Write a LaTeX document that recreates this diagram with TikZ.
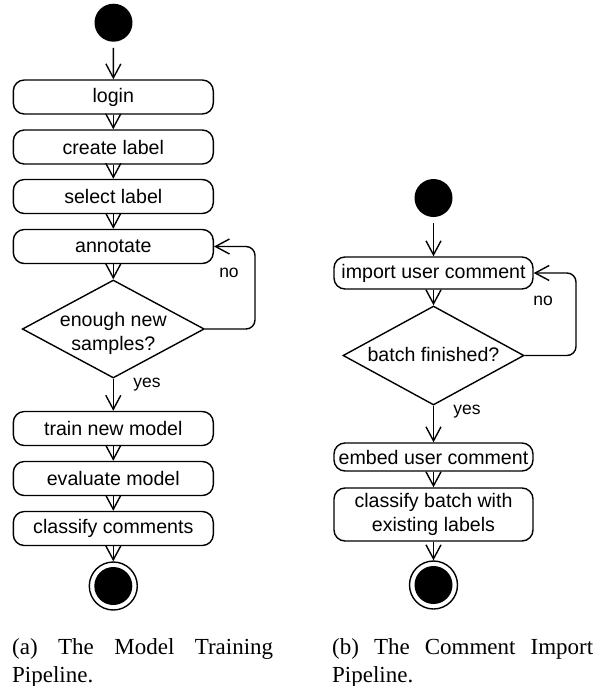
\documentclass[tikz,border=0pt]{standalone}
\usepackage{fontspec}
\setmainfont{Liberation Sans}
\newfontfamily\capfont{Liberation Serif}
\usetikzlibrary{arrows.meta,shapes.geometric}
\begin{document}
\begin{tikzpicture}[x=1pt,y=-1pt,
  every node/.style={font=\fontsize{19.6}{24}\selectfont},
  act/.style={draw, rounded corners=11pt, minimum width=200pt, minimum height=34pt, inner sep=0pt, line width=1.4pt, align=center},
  decision/.style={draw, diamond, minimum width=182pt, minimum height=98pt, inner sep=0pt, line width=1.4pt},
  startnode/.style={circle, fill=black, minimum size=38pt, inner sep=0pt},
  endnode/.style={circle, draw, line width=1.4pt, minimum size=48pt, inner sep=0pt,
    path picture={\fill (path picture bounding box.center) circle (19pt);}},
  flow/.style={line width=1.4pt, -{Straight Barb[length=14pt,width=15pt,line width=1.4pt]}},
  guard/.style={font=\fontsize{17.5}{20}\selectfont, inner sep=0pt},
  caption/.style={font=\capfont\fontsize{23}{28}\selectfont, text width=261pt, align=justify, inner sep=0pt, anchor=north west}
]
\useasboundingbox (0,0) rectangle (603,686);

% ---------- (a) ----------
\node[startnode] (s1) at (113.5,22.7) {};
\node[act] (a1) at (113.3,97) {login};
\node[act] (a2) at (113.3,147) {create label};
\node[act] (a3) at (113.3,196.5) {select label};
\node[act] (a4) at (113.3,246.5) {annotate};
\node[decision] (d1) at (113.3,329) {\smash{\makebox[0pt]{\raisebox{-10pt}{\begin{tabular}{@{}c@{}}enough new\\samples?\end{tabular}}}}};
\node[act] (a5) at (113.3,428.5) {train new model};
\node[act] (a6) at (113.3,478.5) {evaluate model};
\node[act] (a7) at (113.3,528.5) {classify comments};
\node[endnode] (e1) at (113.3,586) {};
\coordinate (c1) at (255,246.5);

\draw[flow, shorten <=6pt] (s1) -- (a1);
\draw[flow] (a1) -- (a2);
\draw[flow] (a2) -- (a3);
\draw[flow] (a3) -- (a4);
\draw[flow] (a4) -- (d1);
\draw[flow, rounded corners=9pt] (d1.east) -| (c1) -- (a4.east);
\draw[flow] (d1) -- (a5);
\draw[flow] (a5) -- (a6);
\draw[flow] (a6) -- (a7);
\draw[flow] (a7) -- (e1);
\node[guard] (n1) at (229,273) {no};
\node[guard] (y1) at (147,385) {yes};

\node[caption] (cap1) at (12,638) {\baselineskip=28pt\hyphenpenalty=10000 (a) The Model Training Pipeline.};

% ---------- (b) ----------
\node[startnode] (s2) at (433.5,198) {};
\node[act, minimum width=199pt, minimum height=32pt] (b1) at (433.5,273) {import user comment};
\node[decision, minimum width=181pt, minimum height=99pt] (d2) at (433.5,355.5) {\smash{\makebox[0pt]{\raisebox{-6pt}{batch finished?}}}};
\node[act, minimum width=199pt, minimum height=28pt] (b2) at (433.5,457) {embed user comment};
\node[act, minimum width=199pt, minimum height=53pt] (b3) at (433.5,514.5) {classify batch with\\existing labels};
\node[endnode] (e2) at (433.5,585) {};
\coordinate (c2) at (576,273);

\draw[flow, shorten <=6pt] (s2) -- (b1);
\draw[flow] (b1) -- (d2);
\draw[flow, rounded corners=9pt] (d2.east) -| (c2) -- (b1.east);
\draw[flow] (d2) -- (b2);
\draw[flow] (b2) -- (b3);
\draw[flow] (b3) -- (e2);
\node[guard] (n2) at (543,301) {no};
\node[guard] (y2) at (467,412) {yes};

\node[caption] (cap2) at (332,638) {\baselineskip=28pt\hyphenpenalty=10000 (b) The Comment Import Pipeline.};
\end{tikzpicture}
\end{document}
